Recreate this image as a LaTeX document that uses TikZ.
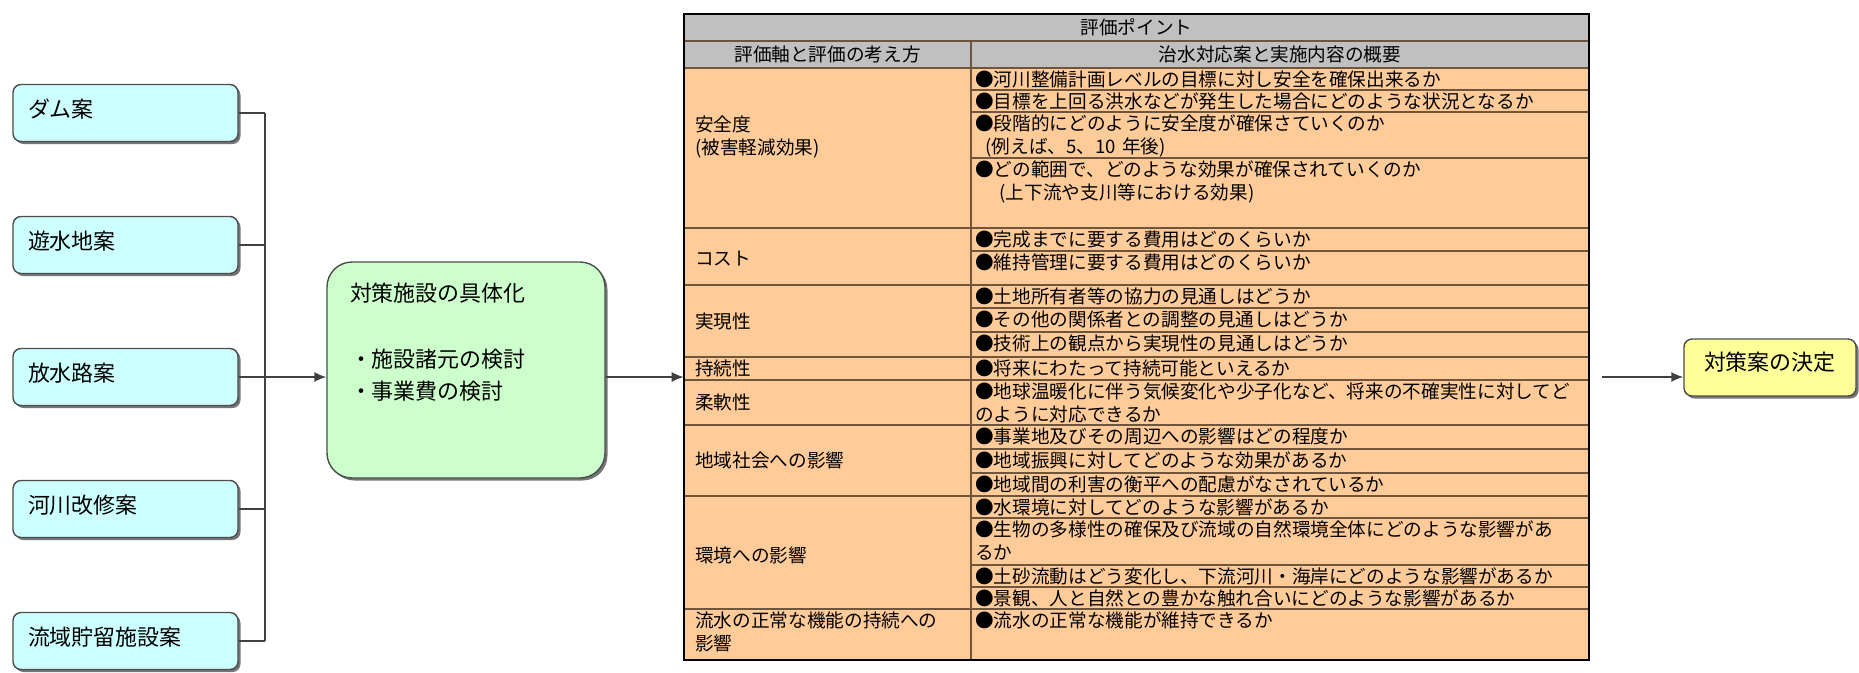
\documentclass[tikz,border=0pt]{standalone}
\usepackage{fontspec}
\setmainfont{Noto Sans CJK JP}
\usepackage{tikz}
\usetikzlibrary{arrows.meta,positioning,shadows}

\definecolor{altcyan}{RGB}{204,255,255}
\definecolor{specgreen}{RGB}{204,255,204}
\definecolor{decideyellow}{RGB}{255,255,153}
\definecolor{evalpeach}{RGB}{255,204,153}
\definecolor{evalgray}{RGB}{192,192,192}
\definecolor{evalline}{RGB}{110,85,60}
\newcommand{\evalfont}{\fontsize{10.6pt}{13.1pt}\selectfont}

\begin{document}
\begin{tikzpicture}[>=Latex,
  boxshadow/.style={drop shadow={shadow xshift=0.05cm,shadow yshift=-0.05cm,fill=black!60,opacity=0.9}},
  altbox/.style={draw=black!70,line width=0.8pt,rounded corners=0.16cm,fill=altcyan,boxshadow,minimum width=4.5cm,minimum height=1.14cm,text width=3.9cm,inner xsep=0.3cm,inner ysep=0pt,text height=0.65cm,text depth=0.49cm,align=left,font=\fontsize{12.5pt}{15pt}\selectfont},
  link/.style={draw=black!75,line width=0.8pt},
  arr/.style={link,-{Latex[length=2.4mm,width=2mm]}},
  evaltxt/.style={anchor=base west,inner sep=0pt,font=\evalfont,align=left},
  evalhead/.style={anchor=base,inner sep=0pt,font=\evalfont},
  evalrule/.style={draw=evalline,line width=0.6pt}]
\useasboundingbox (0,0) rectangle (37.18,-13.44);

\node[altbox] (dam) at (2.51,-2.26) {ダム案};
\node[altbox] (yusui) at (2.51,-4.90) {遊水地案};
\node[altbox] (hosui) at (2.51,-7.54) {放水路案};
\node[altbox] (kaishu) at (2.51,-10.18) {河川改修案};
\node[altbox] (ryuiki) at (2.51,-12.82) {流域貯留施設案};
\coordinate (bus) at (5.30,0);
\draw[link] (dam.east) -- (dam.east -| bus);
\draw[link] (yusui.east) -- (yusui.east -| bus);
\draw[link] (hosui.east) -- (hosui.east -| bus);
\draw[link] (kaishu.east) -- (kaishu.east -| bus);
\draw[link] (ryuiki.east) -- (ryuiki.east -| bus);
\draw[link] (dam.east -| bus) -- (ryuiki.east -| bus);

\node[draw=black!70,line width=0.8pt,rounded corners=0.5cm,fill=specgreen,boxshadow,minimum width=5.56cm,minimum height=4.32cm,text width=4.64cm,inner xsep=0.46cm,inner ysep=0pt,text height=0.78cm,text depth=3.54cm,align=left,font=\fontsize{12.5pt}{18.2pt}\selectfont] (spec) at (9.32,-7.40) {対策施設の具体化\\[0.7cm]・施設諸元の検討\\・事業費の検討};
\draw[arr] (hosui.east -| bus) -- (hosui.east -| spec.west);

\node[fill=evalpeach,inner sep=0pt,minimum width=18.1cm,minimum height=12.92cm] (tbl) at (22.73,-6.74) {};
\fill[evalgray] (tbl.north west) rectangle (31.78,-1.36);
\draw[evalrule] (13.68,-0.82) -- (31.78,-0.82) (13.68,-1.36) -- (31.78,-1.36) (19.42,-0.82) -- (19.42,-13.20);
\draw[evalrule] (13.68,-4.56) -- (31.78,-4.56) (13.68,-5.70) -- (31.78,-5.70) (13.68,-7.14) -- (31.78,-7.14) (13.68,-7.60) -- (31.78,-7.60) (13.68,-8.50) -- (31.78,-8.50) (13.68,-9.92) -- (31.78,-9.92) (13.68,-12.18) -- (31.78,-12.18);
\draw[evalrule] (19.42,-1.80) -- (31.78,-1.80) (19.42,-2.24) -- (31.78,-2.24) (19.42,-3.16) -- (31.78,-3.16) (19.42,-5.02) -- (31.78,-5.02) (19.42,-6.16) -- (31.78,-6.16) (19.42,-6.64) -- (31.78,-6.64) (19.42,-8.98) -- (31.78,-8.98) (19.42,-9.46) -- (31.78,-9.46) (19.42,-10.36) -- (31.78,-10.36) (19.42,-11.30) -- (31.78,-11.30) (19.42,-11.74) -- (31.78,-11.74);
\draw[line width=1.1pt] (tbl.north west) rectangle (tbl.south east);

\node[evalhead] (title) at (22.73,-0.69) {評価ポイント};
\node[evalhead] (headl) at (16.55,-1.23) {評価軸と評価の考え方};
\node[evalhead] (headr) at (25.60,-1.23) {治水対応案と実施内容の概要};

\node[evaltxt,text width=5.6cm] (anzen) at (13.90,-2.62) {安全度\\(被害軽減効果)};
\node[evaltxt,text width=5.6cm] (cost) at (13.90,-5.30) {コスト};
\node[evaltxt,text width=5.6cm] (jitsugen) at (13.90,-6.56) {実現性};
\node[evaltxt,text width=5.6cm] (jizoku) at (13.90,-7.50) {持続性};
\node[evaltxt,text width=5.6cm] (junan) at (13.90,-8.18) {柔軟性};
\node[evaltxt,text width=5.6cm] (chiiki) at (13.90,-9.34) {地域社会への影響};
\node[evaltxt,text width=5.6cm] (kankyo) at (13.90,-11.24) {環境への影響};
\node[evaltxt,text width=5.6cm] (ryusui) at (13.90,-12.54) {流水の正常な機能の持続への\\影響};

\node[evaltxt,text width=12.6cm] (item1) at (19.50,-1.72) {●河川整備計画レベルの目標に対し安全を確保出来るか};
\node[evaltxt,text width=12.6cm] (item2) at (19.50,-2.16) {●目標を上回る洪水などが発生した場合にどのような状況となるか};
\node[evaltxt,text width=12.6cm] (item3) at (19.50,-2.60) {●段階的にどのように安全度が確保さていくのか\\\hspace*{0.55em}(例えば、5、10 年後)};
\node[evaltxt,text width=12.6cm] (item4) at (19.50,-3.52) {●どの範囲で、どのような効果が確保されていくのか\\\hspace*{1.3em}(上下流や支川等における効果)};
\node[evaltxt,text width=12.6cm] (item5) at (19.50,-4.92) {●完成までに要する費用はどのくらいか};
\node[evaltxt,text width=12.6cm] (item6) at (19.50,-5.38) {●維持管理に要する費用はどのくらいか};
\node[evaltxt,text width=12.6cm] (item7) at (19.50,-6.06) {●土地所有者等の協力の見通しはどうか};
\node[evaltxt,text width=12.6cm] (item8) at (19.50,-6.52) {●その他の関係者との調整の見通しはどうか};
\node[evaltxt,text width=12.6cm] (item9) at (19.50,-7.00) {●技術上の観点から実現性の見通しはどうか};
\node[evaltxt,text width=12.6cm] (item10) at (19.50,-7.50) {●将来にわたって持続可能といえるか};
\node[evaltxt,text width=12.6cm] (item11) at (19.50,-7.96) {●地球温暖化に伴う気候変化や少子化など、将来の不確実性に対してど\\のように対応できるか};
\node[evaltxt,text width=12.6cm] (item12) at (19.50,-8.86) {●事業地及びその周辺への影響はどの程度か};
\node[evaltxt,text width=12.6cm] (item13) at (19.50,-9.34) {●地域振興に対してどのような効果があるか};
\node[evaltxt,text width=12.6cm] (item14) at (19.50,-9.82) {●地域間の利害の衡平への配慮がなされているか};
\node[evaltxt,text width=12.6cm] (item15) at (19.50,-10.28) {●水環境に対してどのような影響があるか};
\node[evaltxt,text width=12.6cm] (item16) at (19.50,-10.72) {●生物の多様性の確保及び流域の自然環境全体にどのような影響があ\\るか};
\node[evaltxt,text width=12.6cm] (item17) at (19.50,-11.66) {●土砂流動はどう変化し、下流河川・海岸にどのような影響があるか};
\node[evaltxt,text width=12.6cm] (item18) at (19.50,-12.10) {●景観、人と自然との豊かな触れ合いにどのような影響があるか};
\node[evaltxt,text width=12.6cm] (item19) at (19.50,-12.54) {●流水の正常な機能が維持できるか};

\draw[arr] (hosui.east -| spec.east) -- (hosui.east -| tbl.west);
\node[draw=black!70,line width=0.8pt,rounded corners=0.16cm,fill=decideyellow,boxshadow,minimum width=3.44cm,minimum height=1.14cm,text width=2.64cm,inner xsep=0.4cm,inner ysep=0pt,text height=0.62cm,text depth=0.52cm,align=left,font=\fontsize{12.5pt}{15pt}\selectfont] (decide) at (35.40,-7.35) {対策案の決定};
\coordinate (outstart) at (32.04,-7.54);
\draw[arr] (outstart) -- (outstart -| decide.west);
\end{tikzpicture}
\end{document}
